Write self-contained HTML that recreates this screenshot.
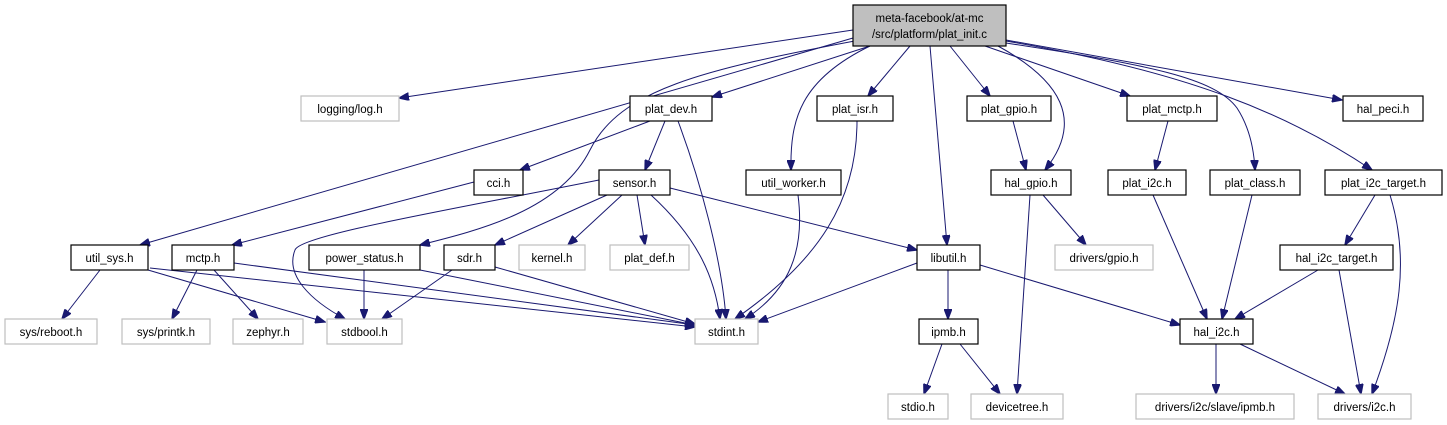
<!DOCTYPE html>
<html><head><meta charset="utf-8"><style>
html,body{margin:0;padding:0;background:#fff;}
svg{display:block;}
text{font-family:"Liberation Sans",Arial,sans-serif;font-size:11.5px;fill:#000;}
.b rect{fill:#fff;stroke:#000;stroke-width:1.2;}
.g rect{fill:#fff;stroke:#bfbfbf;stroke-width:1.2;}
path.e{fill:none;stroke:#191970;stroke-width:1;}
</style></head><body>
<svg width="1447" height="425" viewBox="0 0 1447 425" xmlns="http://www.w3.org/2000/svg">
<defs><marker id="a" markerWidth="11" markerHeight="8" refX="10" refY="4" orient="auto" markerUnits="userSpaceOnUse"><path d="M0,0 L10.5,4 L0,8 z" fill="#191970" stroke="#191970"/></marker></defs>
<g marker-end="url(#a)">
<path class="e" d="M853,30 L399,98"/>
<path class="e" d="M870,46 L712,97"/>
<path class="e" d="M910,46 L868,96"/>
<path class="e" d="M950,46 L990,96"/>
<path class="e" d="M985,46 L1130,96"/>
<path class="e" d="M1006,40 L1342,100"/>
<path class="e" d="M853,38 L140,245"/>
<path class="e" d="M860,40 C700,70 620,90 590,150 C560,210 480,230 420,245"/>
<path class="e" d="M870,46 C800,80 790,120 791,170"/>
<path class="e" d="M930,46 L947,245"/>
<path class="e" d="M998,46 C1060,80 1085,120 1045,170"/>
<path class="e" d="M1006,43 C1150,65 1215,78 1237,108 C1250,128 1254,150 1255,170"/>
<path class="e" d="M1006,41 C1190,72 1290,115 1372,170"/>
<path class="e" d="M650,121 L520,170"/>
<path class="e" d="M665,121 L645,170"/>
<path class="e" d="M678,121 C700,180 722,260 726,319"/>
<path class="e" d="M857,121 C857,200 820,260 735,319"/>
<path class="e" d="M798,195 C805,250 790,290 745,319"/>
<path class="e" d="M1013,121 L1026,170"/>
<path class="e" d="M1043,195 L1086,245"/>
<path class="e" d="M1030,195 L1017,394"/>
<path class="e" d="M1168,121 L1155,170"/>
<path class="e" d="M1153,195 L1207,319"/>
<path class="e" d="M1252,195 L1222,319"/>
<path class="e" d="M1375,195 L1345,245"/>
<path class="e" d="M1390,195 C1410,260 1400,320 1372,394"/>
<path class="e" d="M1318,270 L1235,319"/>
<path class="e" d="M1339,270 L1361,394"/>
<path class="e" d="M1216,344 L1216,394"/>
<path class="e" d="M1240,344 L1345,394"/>
<path class="e" d="M980,265 L1180,325"/>
<path class="e" d="M917,263 L758,322"/>
<path class="e" d="M948,270 L948,319"/>
<path class="e" d="M942,344 L924,394"/>
<path class="e" d="M960,344 L1000,394"/>
<path class="e" d="M474,182 L232,245"/>
<path class="e" d="M599,180 C450,210 300,235 295,250 C285,275 310,300 345,319"/>
<path class="e" d="M607,195 L495,245"/>
<path class="e" d="M622,195 L568,245"/>
<path class="e" d="M637,195 L645,245"/>
<path class="e" d="M651,195 C700,240 715,280 720,319"/>
<path class="e" d="M670,188 L917,250"/>
<path class="e" d="M100,270 L62,319"/>
<path class="e" d="M148,270 L325,322"/>
<path class="e" d="M150,268 L695,327"/>
<path class="e" d="M197,270 L172,319"/>
<path class="e" d="M214,270 L258,319"/>
<path class="e" d="M234,263 L695,325"/>
<path class="e" d="M364,270 L364,319"/>
<path class="e" d="M420,270 L695,325"/>
<path class="e" d="M452,270 L382,319"/>
<path class="e" d="M495,267 L695,324"/>
</g>
<rect x="853" y="5" width="153" height="41" fill="#bfbfbf" stroke="#000" stroke-width="1.2"/>
<text x="929.5" y="22" text-anchor="middle">meta-facebook/at-mc</text>
<text x="929.5" y="38" text-anchor="middle">/src/platform/plat_init.c</text>
<g class="g"><rect x="301" y="96" width="98" height="25"/><text x="350" y="113" text-anchor="middle">logging/log.h</text></g>
<g class="b"><rect x="630" y="96" width="82" height="25"/><text x="671" y="113" text-anchor="middle">plat_dev.h</text></g>
<g class="b"><rect x="817" y="96" width="76" height="25"/><text x="855" y="113" text-anchor="middle">plat_isr.h</text></g>
<g class="b"><rect x="967" y="96" width="84" height="25"/><text x="1009" y="113" text-anchor="middle">plat_gpio.h</text></g>
<g class="b"><rect x="1127" y="96" width="90" height="25"/><text x="1172" y="113" text-anchor="middle">plat_mctp.h</text></g>
<g class="b"><rect x="1343" y="96" width="80" height="25"/><text x="1383" y="113" text-anchor="middle">hal_peci.h</text></g>
<g class="b"><rect x="474" y="170" width="49" height="25"/><text x="498.5" y="187" text-anchor="middle">cci.h</text></g>
<g class="b"><rect x="599" y="170" width="71" height="25"/><text x="634.5" y="187" text-anchor="middle">sensor.h</text></g>
<g class="b"><rect x="746" y="170" width="95" height="25"/><text x="793.5" y="187" text-anchor="middle">util_worker.h</text></g>
<g class="b"><rect x="991" y="170" width="80" height="25"/><text x="1031" y="187" text-anchor="middle">hal_gpio.h</text></g>
<g class="b"><rect x="1108" y="170" width="78" height="25"/><text x="1147" y="187" text-anchor="middle">plat_i2c.h</text></g>
<g class="b"><rect x="1210" y="170" width="90" height="25"/><text x="1255" y="187" text-anchor="middle">plat_class.h</text></g>
<g class="b"><rect x="1325" y="170" width="117" height="25"/><text x="1383.5" y="187" text-anchor="middle">plat_i2c_target.h</text></g>
<g class="b"><rect x="71" y="245" width="77" height="25"/><text x="109.5" y="262" text-anchor="middle">util_sys.h</text></g>
<g class="b"><rect x="172" y="245" width="62" height="25"/><text x="203" y="262" text-anchor="middle">mctp.h</text></g>
<g class="b"><rect x="309" y="245" width="111" height="25"/><text x="364.5" y="262" text-anchor="middle">power_status.h</text></g>
<g class="b"><rect x="444" y="245" width="51" height="25"/><text x="469.5" y="262" text-anchor="middle">sdr.h</text></g>
<g class="g"><rect x="519" y="245" width="66" height="25"/><text x="552" y="262" text-anchor="middle">kernel.h</text></g>
<g class="g"><rect x="610" y="245" width="79" height="25"/><text x="649.5" y="262" text-anchor="middle">plat_def.h</text></g>
<g class="b"><rect x="917" y="245" width="63" height="25"/><text x="948.5" y="262" text-anchor="middle">libutil.h</text></g>
<g class="g"><rect x="1055" y="245" width="98" height="25"/><text x="1104" y="262" text-anchor="middle">drivers/gpio.h</text></g>
<g class="b"><rect x="1280" y="245" width="113" height="25"/><text x="1336.5" y="262" text-anchor="middle">hal_i2c_target.h</text></g>
<g class="g"><rect x="5" y="319" width="92" height="25"/><text x="51" y="336" text-anchor="middle">sys/reboot.h</text></g>
<g class="g"><rect x="122" y="319" width="88" height="25"/><text x="166" y="336" text-anchor="middle">sys/printk.h</text></g>
<g class="g"><rect x="233" y="319" width="70" height="25"/><text x="268" y="336" text-anchor="middle">zephyr.h</text></g>
<g class="g"><rect x="327" y="319" width="75" height="25"/><text x="364.5" y="336" text-anchor="middle">stdbool.h</text></g>
<g class="g"><rect x="695" y="319" width="63" height="25"/><text x="726.5" y="336" text-anchor="middle">stdint.h</text></g>
<g class="b"><rect x="919" y="319" width="59" height="25"/><text x="948.5" y="336" text-anchor="middle">ipmb.h</text></g>
<g class="b"><rect x="1180" y="319" width="73" height="25"/><text x="1216.5" y="336" text-anchor="middle">hal_i2c.h</text></g>
<g class="g"><rect x="888" y="394" width="60" height="25"/><text x="918" y="411" text-anchor="middle">stdio.h</text></g>
<g class="g"><rect x="971" y="394" width="92" height="25"/><text x="1017" y="411" text-anchor="middle">devicetree.h</text></g>
<g class="g"><rect x="1136" y="394" width="158" height="25"/><text x="1215" y="411" text-anchor="middle">drivers/i2c/slave/ipmb.h</text></g>
<g class="g"><rect x="1318" y="394" width="93" height="25"/><text x="1364.5" y="411" text-anchor="middle">drivers/i2c.h</text></g>
</svg>
</body></html>
